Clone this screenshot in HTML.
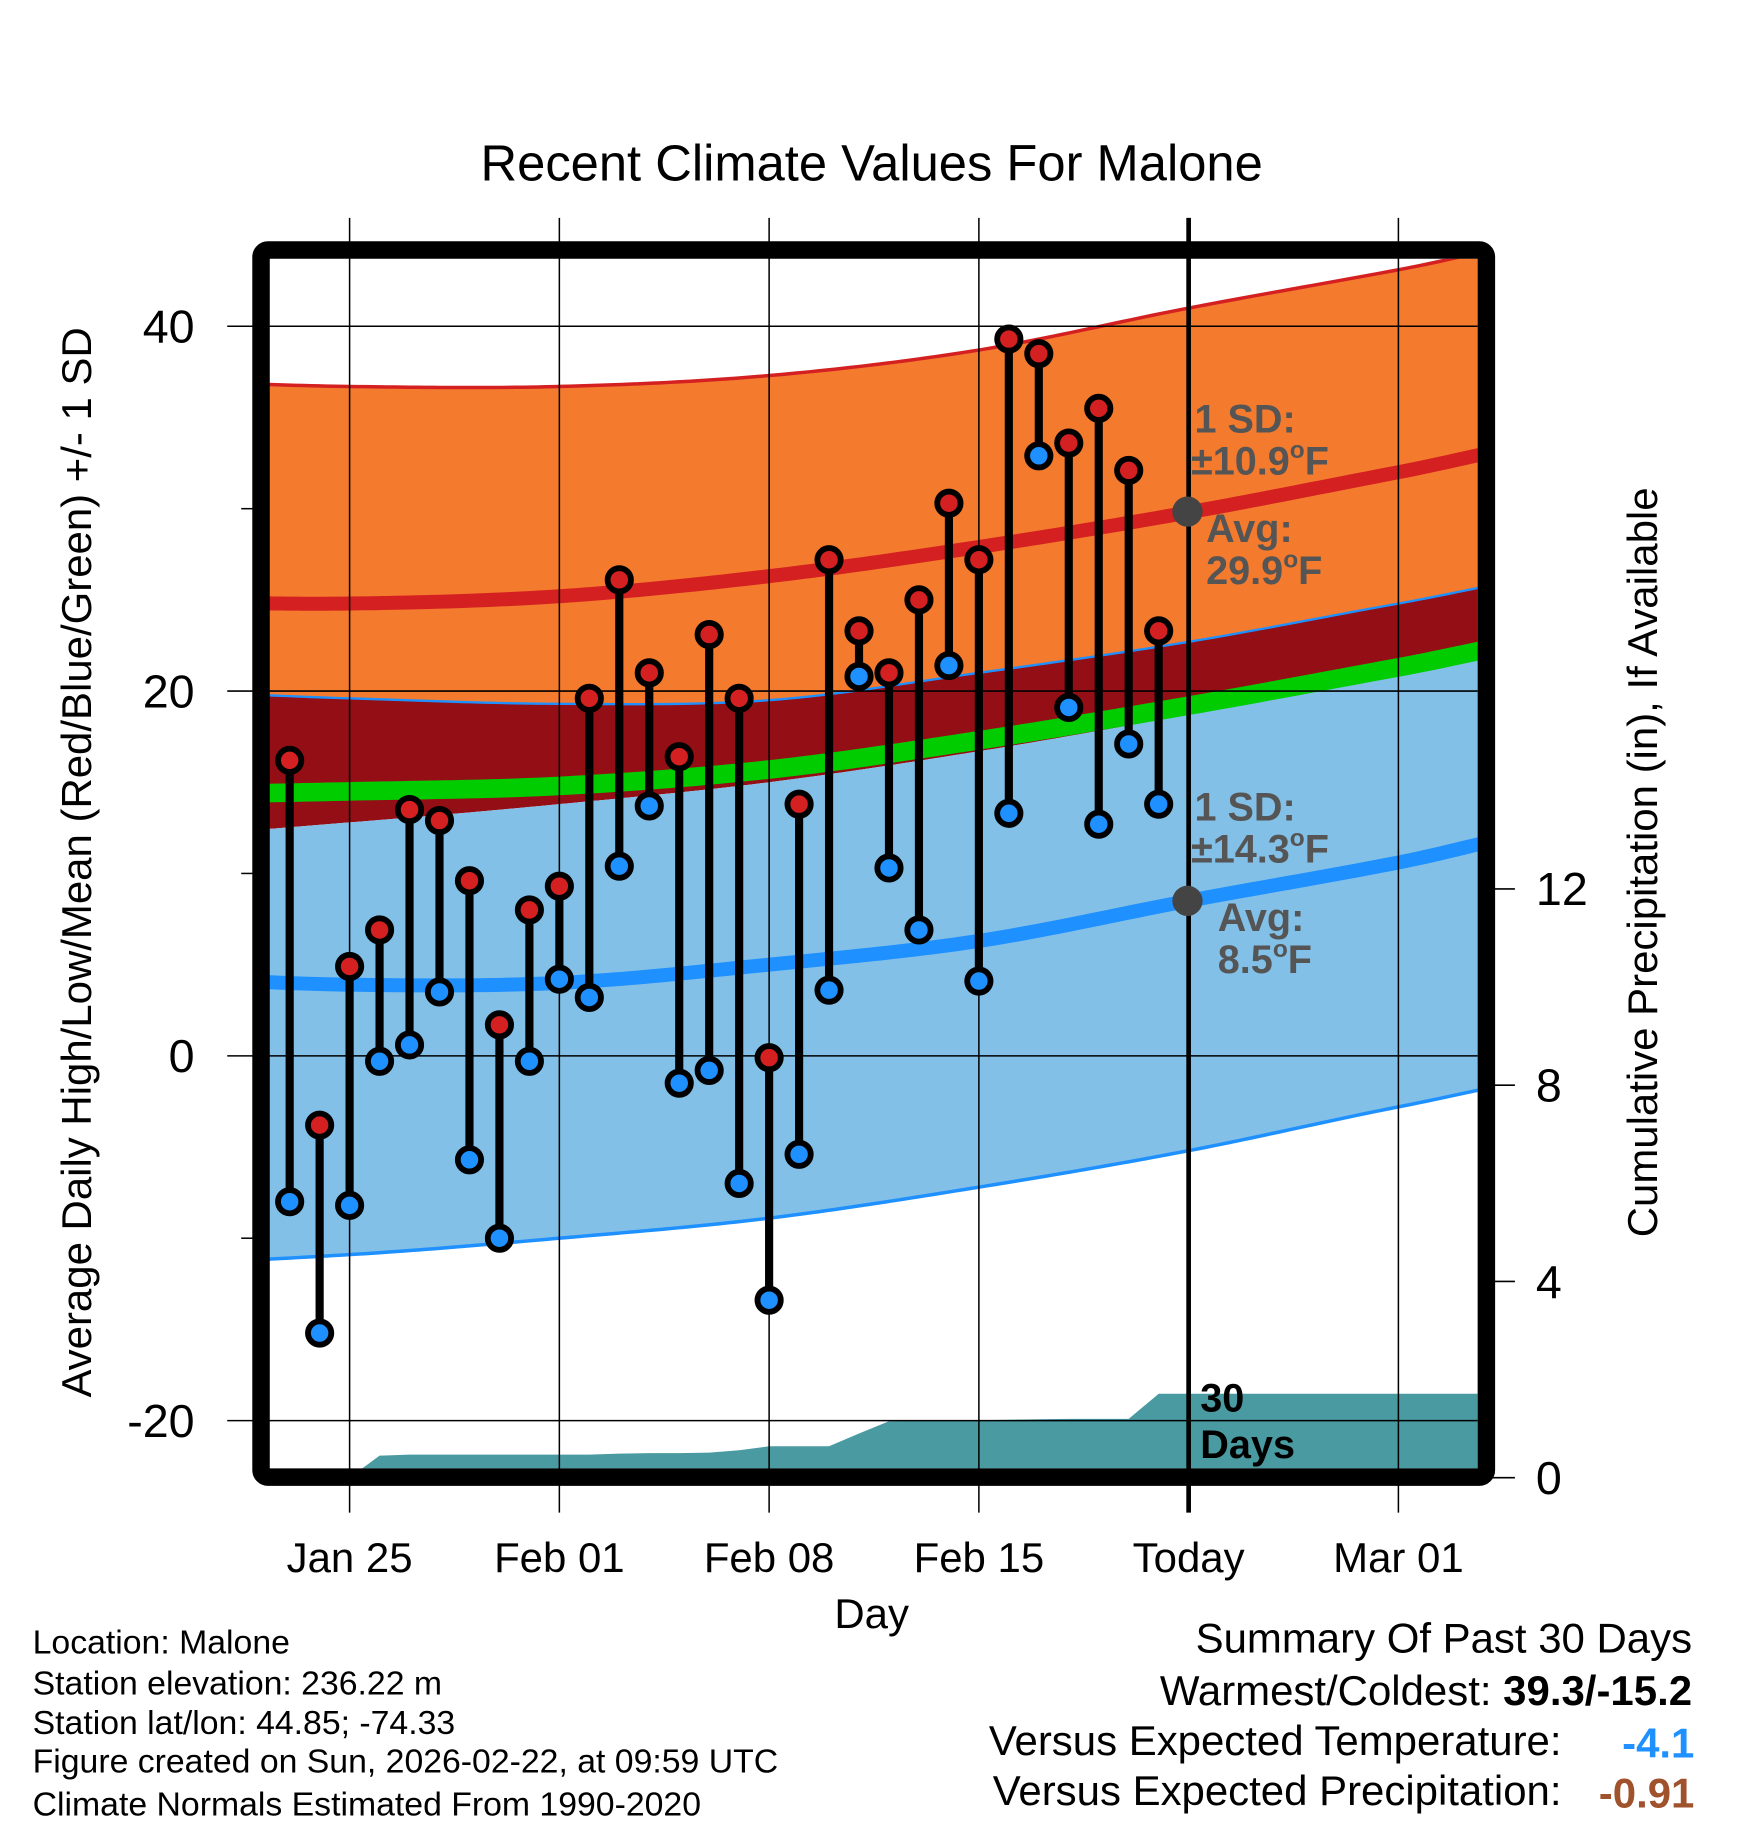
<!DOCTYPE html>
<html><head><meta charset="utf-8"><style>
html,body{margin:0;padding:0;background:#fff;}
svg{display:block;}
text{font-family:"Liberation Sans",Arial,sans-serif;}
</style></head><body>
<svg id="chart" width="1748" height="1828" viewBox="0 0 1500 1568.6" preserveAspectRatio="none" xmlns="http://www.w3.org/2000/svg">
<defs><clipPath id="plotclip"><rect x="231" y="222" width="1037" height="1038"/></clipPath></defs>
<text x="748" y="155" font-size="43.5" text-anchor="middle">Recent Climate Values For Malone</text>
<g id="bands" clip-path="url(#plotclip)"></g>
<g id="grid"></g>
<g id="marks"></g>
<g id="annot">
<circle cx="1019" cy="439" r="13" fill="#444"/>
<circle cx="1019" cy="773" r="13" fill="#444"/>
<g font-weight="bold" font-size="34" fill="#555">
<text x="1025" y="371">1 SD:</text>
<text x="1022" y="407">±10.9<tspan font-size="21" dy="-14">o</tspan><tspan dy="14">F</tspan></text>
<text x="1035" y="465">Avg:</text>
<text x="1035" y="501">29.9<tspan font-size="21" dy="-14">o</tspan><tspan dy="14">F</tspan></text>
<text x="1025" y="704">1 SD:</text>
<text x="1022" y="740">±14.3<tspan font-size="21" dy="-14">o</tspan><tspan dy="14">F</tspan></text>
<text x="1045" y="799">Avg:</text>
<text x="1045" y="835">8.5<tspan font-size="21" dy="-14">o</tspan><tspan dy="14">F</tspan></text>
</g>
<text x="1030" y="1211" font-size="34" font-weight="bold">30</text>
<text x="1030" y="1251" font-size="34" font-weight="bold">Days</text>
</g>
<rect x="224" y="214.5" width="1051.5" height="1053" rx="6" fill="none" stroke="#000" stroke-width="15"/>
<g id="axes"></g>
<text transform="translate(78,740) rotate(-90)" font-size="36" text-anchor="middle">Average Daily High/Low/Mean (Red/Blue/Green) +/- 1 SD</text>
<text transform="translate(1422,740) rotate(-90)" font-size="36" text-anchor="middle">Cumulative Precipitation (in), If Available</text>
<text x="748" y="1397" font-size="36" text-anchor="middle">Day</text>
<g font-size="29">
<text x="28" y="1419">Location: Malone</text>
<text x="28" y="1454">Station elevation: 236.22 m</text>
<text x="28" y="1488">Station lat/lon: 44.85; -74.33</text>
<text x="28" y="1521">Figure created on Sun, 2026-02-22, at 09:59 UTC</text>
<text x="28" y="1558">Climate Normals Estimated From 1990-2020</text>
</g>
<g font-size="36">
<text x="1452" y="1418" text-anchor="end">Summary Of Past 30 Days</text>
<text x="1452" y="1463" text-anchor="end">Warmest/Coldest: <tspan font-weight="bold">39.3/-15.2</tspan></text>
<text x="1340" y="1506" text-anchor="end">Versus Expected Temperature:</text>
<text x="1454" y="1508" text-anchor="end" font-weight="bold" fill="#1e90ff">-4.1</text>
<text x="1340" y="1549" text-anchor="end">Versus Expected Precipitation:</text>
<text x="1454" y="1551" text-anchor="end" font-weight="bold" fill="#a0522d">-0.91</text>
</g>
</svg>
<script>
// ---- data ----
const dayLabels = ["Jan23","Jan24","Jan25","Jan26","Jan27","Jan28","Jan29","Jan30","Jan31","Feb01","Feb02","Feb03","Feb04","Feb05","Feb06","Feb07","Feb08","Feb09","Feb10","Feb11","Feb12","Feb13","Feb14","Feb15","Feb16","Feb17","Feb18","Feb19","Feb20","Feb21"];
const highs = [16.2,-3.8,4.9,6.9,13.5,12.9,9.6,1.7,8.0,9.3,19.6,26.1,21.0,16.4,23.1,19.6,-0.1,13.8,27.2,23.3,21.0,25.0,30.3,27.2,39.3,38.5,33.6,35.5,32.1,23.3];
const lows = [-8.0,-15.2,-8.2,-0.3,0.6,3.5,-5.7,-10.0,-0.3,4.2,3.2,10.4,13.7,-1.5,-0.8,-7.0,-13.4,-5.4,3.6,20.8,10.3,6.9,21.4,4.1,13.3,32.9,19.1,12.7,17.1,13.8];
const precipCum = [0,0,0,0.45,0.47,0.47,0.47,0.47,0.47,0.47,0.47,0.49,0.5,0.5,0.51,0.56,0.64,0.64,0.64,0.9,1.15,1.16,1.16,1.17,1.18,1.19,1.2,1.2,1.2,1.71];
const normDays = [-7,0,7,14,21,28,35,42];
const hiUpper = [37.0,36.7,36.7,37.3,38.7,41.0,43.1,45.3];
const hiAvg = [24.9,24.8,25.2,26.3,27.9,29.8,32.0,34.2];
const hiLower = [20.0,19.6,19.3,19.5,21.0,22.7,24.8,26.8];
const meanAvg = [14.3,14.5,14.8,15.7,17.3,19.2,21.3,23.4];
const loUpper = [12.0,12.8,13.8,15.0,16.7,18.7,20.8,22.9];
const loAvg = [4.3,3.9,4.0,5.0,6.3,8.5,10.6,13.0];
const loLower = [-11.4,-10.9,-10.0,-8.9,-7.2,-5.2,-2.8,-0.7];
const xTickDays = [0,7,14,21,28,35];
const xTickLabels = ["Jan 25","Feb 01","Feb 08","Feb 15","Today","Mar 01"];
const yTicks = [40,20,0,-20];
const yMinorTicks = [30,10,-10];
const y2Ticks = [0,4,8,12];

// ---- axes ----
const NS="http://www.w3.org/2000/svg";
const firstDay = -2; // index 0 => Jan 23
function xDay(d){return 300 + d*(900/35);}
function yT(t){return 906 - t*15.65;}
function yP(p){return 1268 - p*42.1;}
const X0=231,X1=1268;
function mk(tag,attrs,parent){const e=document.createElementNS(NS,tag);for(const k in attrs)e.setAttribute(k,attrs[k]);parent.appendChild(e);return e;}
function interp(arr,d){
  let i=0;
  while(i<normDays.length-2 && d>normDays[i+1]) i++;
  const t=(d-normDays[i])/(normDays[i+1]-normDays[i]);
  const p0=arr[Math.max(i-1,0)],p1=arr[i],p2=arr[i+1],p3=arr[Math.min(i+2,arr.length-1)];
  const t2=t*t,t3=t2*t;
  return 0.5*((2*p1)+(-p0+p2)*t+(2*p0-5*p1+4*p2-p3)*t2+(-p0+3*p1-3*p2+p3)*t3);
}
const dStart=-2.8,dEnd=37.7;
function pts(arr){const r=[];for(let i=0;i<=160;i++){const d=dStart+(dEnd-dStart)*i/160;r.push([xDay(d),yT(interp(arr,d))]);}return r;}
const bands=document.getElementById('bands');
function band(up,lo,fill,name){
  const a=pts(up),b=pts(lo).reverse();
  const p=mk('polygon',{points:a.concat(b).map(q=>q.join(',')).join(' '),fill:fill},bands);
  
  
}
function line(arr,color,w,name){
  const p=mk('polyline',{points:pts(arr).map(q=>q.join(',')).join(' '),fill:'none',stroke:color,'stroke-width':w},bands);
  
  
}
band(hiUpper,hiLower,'#f47a2e','high-sd-band');
band(hiLower,loUpper,'#930f15','overlap-band');
band(loUpper,loLower,'#82c0e8','low-sd-band');
line(meanAvg,'#00cc00',16,'mean-line');
line(hiUpper,'#d42020',3,'high-upper-line');
line(hiLower,'#1e90ff',2,'high-lower-line');
line(loLower,'#1e90ff',3,'low-lower-line');
line(hiAvg,'#d42020',12,'high-avg-line');
line(loAvg,'#1e90ff',12,'low-avg-line');
// precipitation area
{
  const pp=[[xDay(0),1262]];
  precipCum.forEach((v,i)=>{const d=i+firstDay; if(d>=0) pp.push([xDay(d),yP(v)]);});
  pp.push([X1,yP(precipCum[precipCum.length-1])]);
  pp.push([X1,1262]);
  const p=mk('polygon',{points:pp.map(q=>q.join(',')).join(' '),fill:'#4a9aa2'},bands);
  
  
}
// grid
const grid=document.getElementById('grid');
xTickDays.forEach((d,i)=>{
  const isToday=xTickLabels[i]==="Today";
  const l=mk('line',{x1:xDay(d),x2:xDay(d),y1:187,y2:1298,stroke:'#000','stroke-width':isToday?4:1.3},grid);
  
  
  const t=mk('text',{x:xDay(d),y:1349,'font-size':36,'text-anchor':'middle'},grid);
  t.textContent=xTickLabels[i];
  
  
});
yTicks.forEach(v=>{
  const l=mk('line',{x1:195,x2:X1,y1:yT(v),y2:yT(v),stroke:'#000','stroke-width':1.3},grid);
  
  
  const t=mk('text',{x:167,y:yT(v)+14,'font-size':40,'text-anchor':'end'},grid);
  t.textContent=v;
  
  
});
yMinorTicks.forEach(v=>{
  const l=mk('line',{x1:207,x2:220,y1:yT(v),y2:yT(v),stroke:'#000','stroke-width':1.3},grid);
  
  
});
y2Ticks.forEach(v=>{
  const l=mk('line',{x1:1280,x2:1300,y1:yP(v),y2:yP(v),stroke:'#000','stroke-width':1.3},grid);
  
  
  const t=mk('text',{x:1318,y:yP(v)+14,'font-size':40},grid);
  t.textContent=v;
  
  
});
// marks
const marks=document.getElementById('marks');
highs.forEach((h,i)=>{
  const x=xDay(i+firstDay);
  const s=mk('line',{x1:x,x2:x,y1:yT(h),y2:yT(lows[i]),stroke:'#000','stroke-width':7},marks);
  
  
});
highs.forEach((h,i)=>{
  const x=xDay(i+firstDay);
  const a=mk('circle',{cx:x,cy:yT(h),r:10,fill:'#d42020',stroke:'#000','stroke-width':5},marks);
  
  
  const b=mk('circle',{cx:x,cy:yT(lows[i]),r:10,fill:'#1e90ff',stroke:'#000','stroke-width':5},marks);
  
  
});
</script>
</body></html>
